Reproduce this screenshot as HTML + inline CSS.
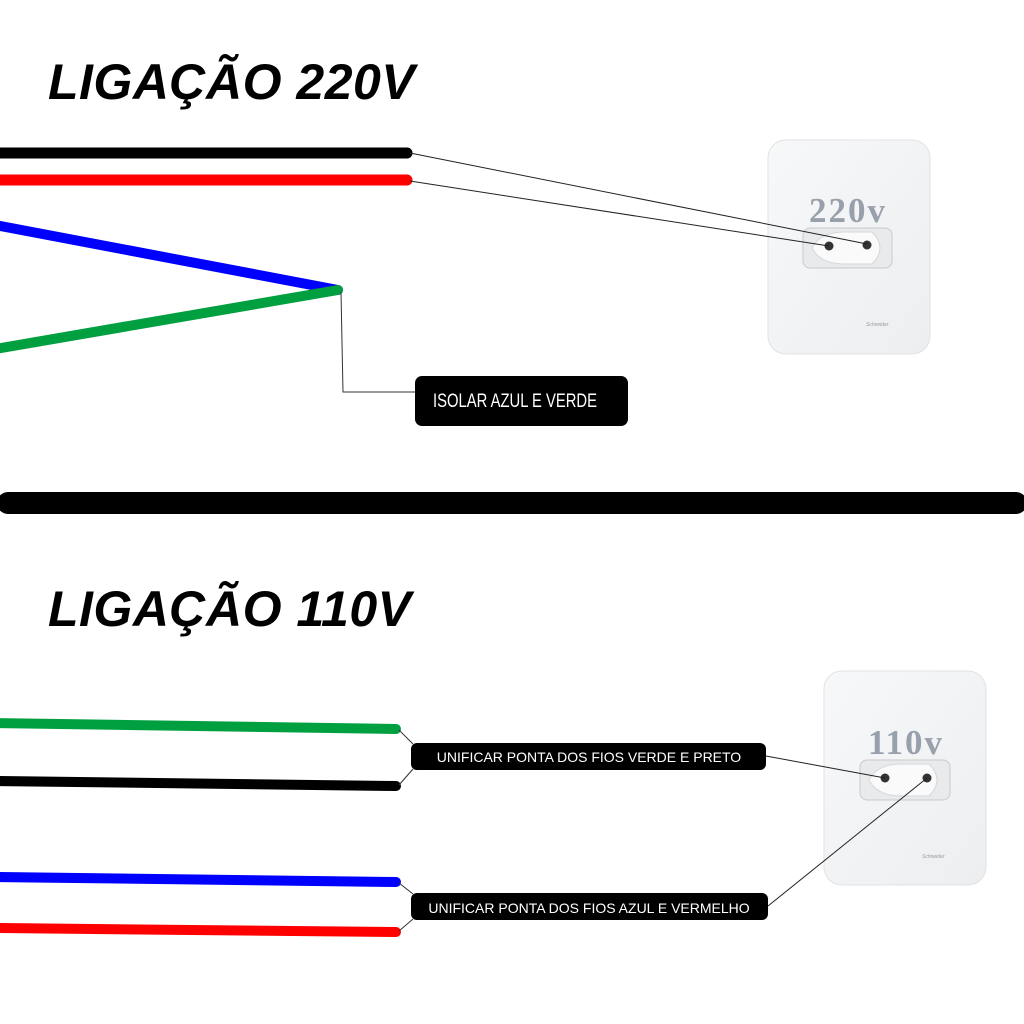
<!DOCTYPE html>
<html><head><meta charset="utf-8"><style>
html,body{margin:0;padding:0;background:#fff;}
svg{display:block}
</style></head><body>
<svg width="1024" height="1024" viewBox="0 0 1024 1024" xmlns="http://www.w3.org/2000/svg">
<defs>
<linearGradient id="pl" x1="0" y1="0" x2="1" y2="1"><stop offset="0" stop-color="#f7f8f9"/><stop offset="1" stop-color="#eceef0"/></linearGradient>
</defs>
<rect width="1024" height="1024" fill="#fff"/>
<text x="48" y="99" font-family="Liberation Sans, sans-serif" font-size="50" font-weight="bold" font-style="italic" letter-spacing="0.5">LIGAÇÃO 220V</text>
<g stroke-linecap="round" fill="none">
<line x1="-5" y1="153" x2="407" y2="153" stroke="#000" stroke-width="11"/>
<line x1="-5" y1="180" x2="407" y2="180" stroke="#f00" stroke-width="11"/>
<line x1="-5" y1="225" x2="338" y2="290" stroke="#0000ff" stroke-width="10"/>
<line x1="-5" y1="349" x2="338" y2="290" stroke="#00a040" stroke-width="10"/>
</g>
<polyline points="341,292 343,392 415,392" fill="none" stroke="#333" stroke-width="1"/>
<rect x="415" y="376" width="213" height="50" rx="7" fill="#000"/>
<text x="515" y="407" text-anchor="middle" fill="#fff" font-family="Liberation Sans, sans-serif" font-size="19" transform="translate(515 0) scale(0.78 1) translate(-515 0)">ISOLAR AZUL E VERDE</text>
<!-- socket 220 -->
<rect x="768" y="140" width="162" height="214" rx="18" fill="url(#pl)" stroke="#e0e2e4"/>
<text x="848" y="222" text-anchor="middle" fill="#97a0ab" font-family="Liberation Serif, serif" font-weight="bold" font-size="35" letter-spacing="2">220v</text>
<rect x="803" y="228" width="89" height="40" rx="7" fill="#e8eaec" stroke="#c8cacc"/>
<path d="M812 248 Q820 232 845 232 L872 232 Q888 248 872 264 L845 264 Q820 264 812 248Z" fill="#fafafa" stroke="#d6d8da"/>
<circle cx="829" cy="246" r="4.5" fill="#333"/>
<circle cx="867" cy="245" r="4.5" fill="#333"/>
<text x="866" y="326" fill="#999" font-size="5" font-family="Liberation Sans, sans-serif" font-style="italic">Schneider</text>
<line x1="410" y1="153" x2="867" y2="244" stroke="#222" stroke-width="1"/>
<line x1="410" y1="181" x2="829" y2="246" stroke="#222" stroke-width="1"/>
<!-- divider -->
<line x1="8" y1="503" x2="1016" y2="503" stroke="#000" stroke-width="22" stroke-linecap="round"/>
<text x="48" y="626" font-family="Liberation Sans, sans-serif" font-size="50" font-weight="bold" font-style="italic" letter-spacing="0.5">LIGAÇÃO 110V</text>
<g stroke-linecap="round" fill="none" stroke-width="10">
<line x1="-5" y1="723" x2="396" y2="729" stroke="#00a040"/>
<line x1="-5" y1="781" x2="396" y2="786" stroke="#000"/>
<line x1="-5" y1="877" x2="396" y2="882" stroke="#0000ff"/>
<line x1="-5" y1="928" x2="396" y2="932" stroke="#f00"/>
</g>
<g stroke="#333" stroke-width="1">
<line x1="399" y1="730" x2="413" y2="744"/>
<line x1="399" y1="785" x2="413" y2="769"/>
<line x1="399" y1="883" x2="413" y2="894"/>
<line x1="399" y1="931" x2="413" y2="919"/>
</g>
<rect x="411" y="743" width="355" height="27" rx="6" fill="#000"/>
<text x="589" y="762" text-anchor="middle" fill="#fff" font-family="Liberation Sans, sans-serif" font-size="14">UNIFICAR PONTA DOS FIOS VERDE E PRETO</text>
<rect x="411" y="893" width="357" height="27" rx="6" fill="#000"/>
<text x="589" y="913" text-anchor="middle" fill="#fff" font-family="Liberation Sans, sans-serif" font-size="14">UNIFICAR PONTA DOS FIOS AZUL E VERMELHO</text>
<!-- socket 110 -->
<rect x="824" y="671" width="162" height="214" rx="18" fill="url(#pl)" stroke="#e0e2e4"/>
<text x="906" y="754" text-anchor="middle" fill="#97a0ab" font-family="Liberation Serif, serif" font-weight="bold" font-size="35" letter-spacing="2">110v</text>
<rect x="860" y="760" width="90" height="40" rx="7" fill="#e8eaec" stroke="#c8cacc"/>
<path d="M869 780 Q877 764 902 764 L929 764 Q945 780 929 796 L902 796 Q877 796 869 780Z" fill="#fafafa" stroke="#d6d8da"/>
<circle cx="885" cy="778" r="4.5" fill="#333"/>
<circle cx="927" cy="778" r="4.5" fill="#333"/>
<text x="922" y="858" fill="#999" font-size="5" font-family="Liberation Sans, sans-serif" font-style="italic">Schneider</text>
<line x1="766" y1="756" x2="885" y2="778" stroke="#222" stroke-width="1"/>
<line x1="768" y1="906" x2="927" y2="778" stroke="#222" stroke-width="1"/>
</svg>
</body></html>
